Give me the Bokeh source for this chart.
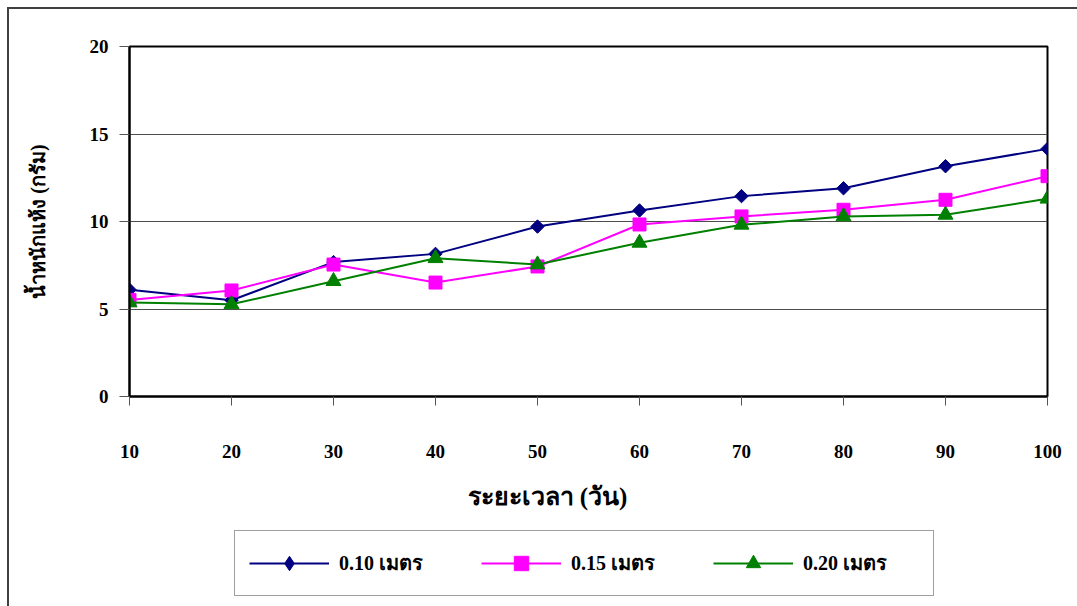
from bokeh.plotting import figure
from bokeh.layouts import column
from bokeh.models import Range1d, FixedTicker, Legend, LegendItem, Title
from bokeh.embed import file_html
from bokeh.resources import INLINE
import math

# Sampling days and dry weight (g) for three planting depths
days = [10, 20, 30, 40, 50, 60, 70, 80, 90, 100]
dw_010 = [6.1, 5.5, 7.68, 8.15, 9.71, 10.63, 11.45, 11.9, 13.16, 14.15]
dw_015 = [5.52, 6.06, 7.54, 6.51, 7.43, 9.83, 10.29, 10.67, 11.24, 12.59]
dw_020 = [5.37, 5.27, 6.59, 7.9, 7.54, 8.78, 9.81, 10.29, 10.38, 11.3]
series_labels = ["0.10 เมตร", "0.15 เมตร", "0.20 เมตร"]
y_ticks = [0, 5, 10, 15, 20]

SERIF = "Liberation Serif"

p = figure(
    width=1068, height=521,
    x_range=Range1d(10, 100), y_range=Range1d(0, 20),
    output_backend="svg", toolbar_location=None,
    min_border_left=120, min_border_right=30,
    min_border_top=37, min_border_bottom=134,
    background_fill_color="white", border_fill_color="white",
)
p.outline_line_color = "black"
p.outline_line_width = 2

# x axis
xa = p.xaxis[0]
xa.ticker = FixedTicker(ticks=days)
xa.axis_line_color = "black"
xa.axis_line_width = 2
xa.major_tick_out = 9
xa.major_tick_in = 0
xa.major_tick_line_color = "#555555"
xa.minor_tick_line_color = None
xa.major_label_standoff = 39
xa.major_label_text_font = SERIF
xa.major_label_text_font_style = "bold"
xa.major_label_text_font_size = "19px"
xa.major_label_text_color = "black"

# x axis title, set a little left of centre
x_title = Title(
    text="ระยะเวลา (วัน)", align="left", offset=338, standoff=40,
    text_font=SERIF, text_font_style="bold", text_font_size="25px",
    text_color="black",
)
p.add_layout(x_title, "below")

# y axis
ya = p.yaxis[0]
ya.ticker = FixedTicker(ticks=y_ticks)
ya.axis_line_color = "black"
ya.axis_line_width = 2
ya.major_tick_out = 10
ya.major_tick_in = 0
ya.major_tick_line_color = "#555555"
ya.minor_tick_line_color = None
ya.major_label_standoff = 11
ya.major_label_text_font = SERIF
ya.major_label_text_font_style = "bold"
ya.major_label_text_font_size = "19px"
ya.major_label_text_color = "black"
ya.axis_label = "น้ำหนักแห้ง (กรัม)"
ya.axis_label_standoff = 38
ya.axis_label_text_font = SERIF
ya.axis_label_text_font_style = "bold"
ya.axis_label_text_font_size = "20px"
ya.axis_label_text_color = "black"

p.xgrid.grid_line_color = None
p.ygrid.ticker = FixedTicker(ticks=y_ticks)
p.ygrid.grid_line_color = "#4d4d4d"
p.ygrid.grid_line_width = 1

# (colour, marker in the chart, marker in the key)
styles = [
    ("#000080", dict(marker="square", size=9.5, angle=math.pi / 4), dict(marker="diamond")),
    ("#ff00ff", dict(marker="square", size=13), dict(marker="square")),
    ("#008000", dict(marker="triangle", size=15), dict(marker="triangle")),
]

# legend strip under the chart; its own series sit outside its view
lg = figure(
    width=1068, height=76,
    x_range=Range1d(-2, -1), y_range=Range1d(-2, -1),
    output_backend="svg", toolbar_location=None,
    x_axis_location=None, y_axis_location=None,
    min_border=0, border_fill_color="white", background_fill_color="white",
)
lg.outline_line_color = None
lg.grid.visible = False

items = []
for vals, label, (color, mk, key_mk) in zip([dw_010, dw_015, dw_020], series_labels, styles):
    p.line(days, vals, line_color=color, line_width=2)
    p.scatter(days, vals, fill_color=color, line_color=color, **mk)
    key_ln = lg.line(days, vals, line_color=color, line_width=2)
    key_sc = lg.scatter(days, vals, fill_color=color, line_color=color, **key_mk)
    items.append(LegendItem(label=label, renderers=[key_ln, key_sc]))

legend = Legend(
    items=items, orientation="horizontal", location=(105, 10),
    glyph_width=80, glyph_height=36, label_standoff=10, label_width=116,
    spacing=26, padding=14, margin=0,
    label_text_font=SERIF, label_text_font_style="bold",
    label_text_font_size="20px", label_text_color="black",
    border_line_color="#404040", border_line_width=1.5,
    background_fill_color="white", background_fill_alpha=1,
)
lg.add_layout(legend, "center")

page = column(p, lg, spacing=0)
page.styles = {
    "margin-left": "7px", "margin-top": "7px",
    "border-left": "2px solid #404040", "border-top": "2px solid #404040",
}

open("out.html", "w").write(file_html(page, INLINE))
